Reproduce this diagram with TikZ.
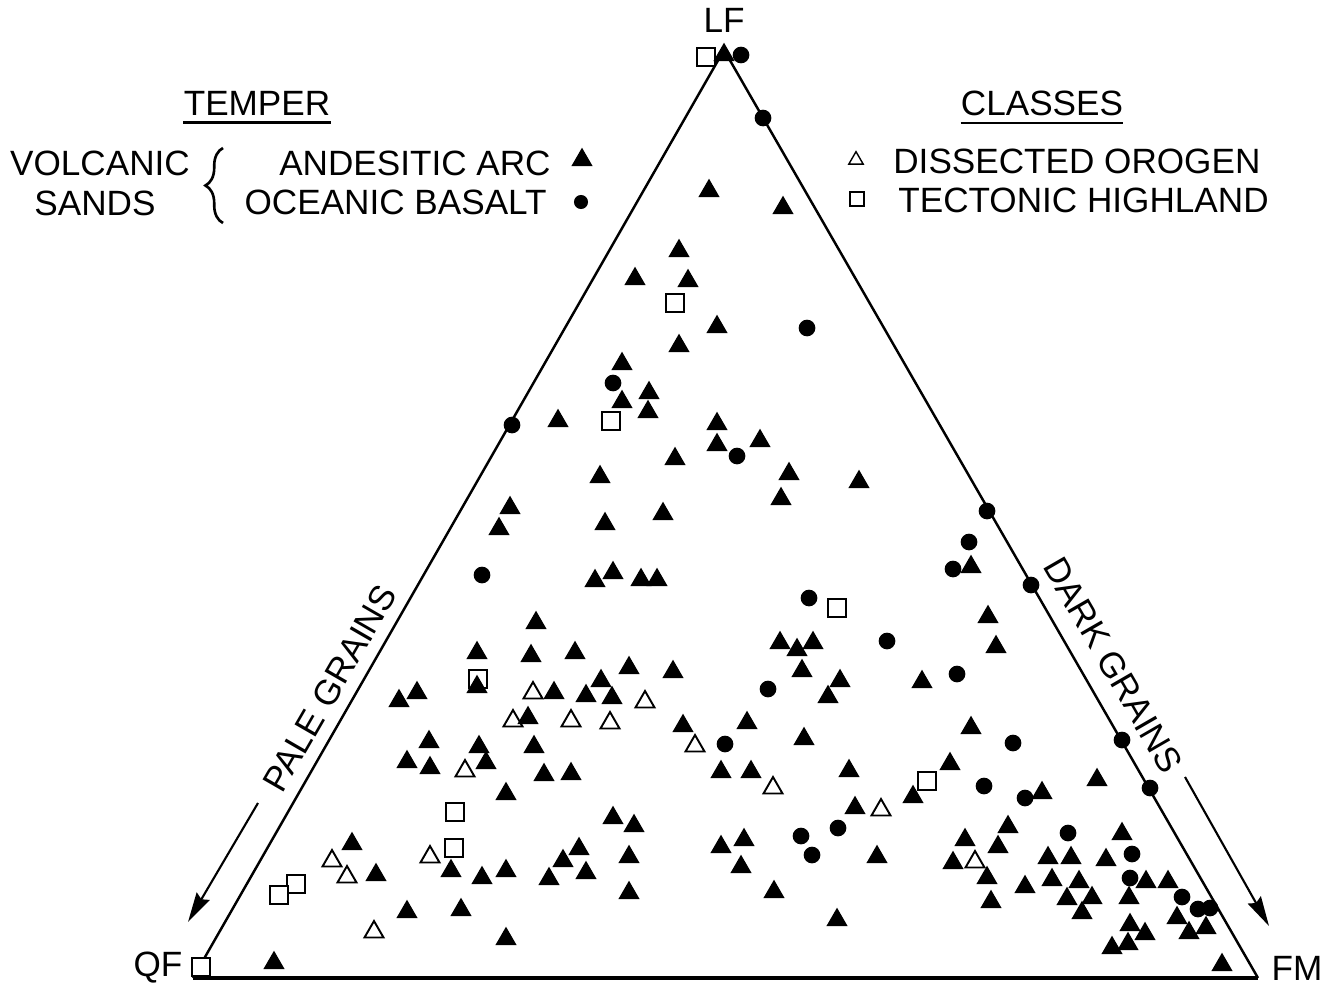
\documentclass[tikz,border=0pt]{standalone}
\usepackage{fontspec}
\setmainfont{Liberation Sans}
\usetikzlibrary{shapes.geometric,arrows.meta,decorations.pathreplacing}
\tikzset{
    lab/.style={inner sep=0pt},
    andesite/.style={regular polygon, regular polygon sides=3, fill=black, inner sep=0pt, minimum size=14pt},
    basalt/.style={circle, fill=black, inner sep=0pt, minimum size=9.5pt},
    orogen/.style={regular polygon, regular polygon sides=3, draw=black, fill=white, line width=1.1pt, inner sep=0pt, minimum size=12.5pt},
    highland/.style={rectangle, draw=black, fill=white, line width=1pt, inner sep=0pt, minimum size=10pt},
    uline/.style={line width=1.2pt},
    grainarrow/.style={line width=1.2pt, -{Stealth[length=17pt,width=8.5pt,inset=2pt]}}
}
\begin{document}
\begin{tikzpicture}[x=0.02cm, y=-0.02cm, font=\fontsize{20}{24}\selectfont]
    \useasboundingbox (0,0) rectangle (1325,984);
    % triangle
    \coordinate (QF) at (193,978);
    \coordinate (FM) at (1258,978);
    \coordinate (LF) at (724,50);
    \draw[line width=1.4pt, line join=miter] (FM)--(LF)--(QF);
    \draw[line width=1.8pt] (QF)--(FM);
    \node[lab] (lQF) at (158,968) {QF};
    \node[lab] (lFM) at (1297,968) {FM};
    \node[lab] (lLF) at (724,20) {LF};
    % edge labels
    \node[lab, rotate=60] (pale) at (330,688) {PALE GRAINS};
    \coordinate (pg1) at (258,803);
    \coordinate (pg2) at (188,922);
    \draw[grainarrow] (pg1)--(pg2);
    \node[lab, rotate=-60] (dark) at (1113,665) {DARK GRAINS};
    \coordinate (dg1) at (1185,777);
    \coordinate (dg2) at (1269,926);
    \draw[grainarrow] (dg1)--(dg2);
    % legend
    \node[lab] (temper) at (257,103) {TEMPER};
    \draw[uline] ([yshift=-4pt]temper.south west)--([yshift=-4pt]temper.south east);
    \node[lab] (volc) at (100,163) {VOLCANIC};
    \node[lab] (sands) at (95,203) {SANDS};
    \draw[decorate, decoration={brace, amplitude=10pt}, line width=1.5pt] (223,223)--(223,148);
    \node[lab, anchor=east] (andes) at (551,163) {ANDESITIC ARC};
    \node[lab, anchor=east] (ocean) at (547,202) {OCEANIC BASALT};
    \node[andesite] (kA) at (582,160) {};
    \node[basalt, minimum size=8pt] (kB) at (581,202) {};
    \node[lab] (classes) at (1042,103) {CLASSES};
    \draw[uline] ([yshift=-4pt]classes.south west)--([yshift=-4pt]classes.south east);
    \node[orogen, minimum size=9.5pt, line width=0.8pt] (kD) at (856,160) {};
    \node[highland, minimum size=8pt, line width=0.8pt] (kS) at (857,199) {};
    \node[lab, anchor=west] (disorog) at (893,161) {DISSECTED OROGEN};
    \node[lab, anchor=west] (tecthl) at (898,200) {TECTONIC HIGHLAND};
    % tectonic highland
    \node[highland] (S1) at (706,57) {};
    \node[highland] (S2) at (675,303) {};
    \node[highland] (S3) at (611,421) {};
    \node[highland] (S4) at (837,608) {};
    \node[highland] (S5) at (478,679) {};
    \node[highland] (S6) at (927,781) {};
    \node[highland] (S7) at (455,812) {};
    \node[highland] (S8) at (454,848) {};
    \node[highland] (S9) at (296,884) {};
    \node[highland] (S10) at (279,895) {};
    \node[highland] (S11) at (201,967) {};
    % dissected orogen
    \node[orogen] (D1) at (513,721) {};
    \node[orogen] (D2) at (533,693) {};
    \node[orogen] (D3) at (571,721) {};
    \node[orogen] (D4) at (610,723) {};
    \node[orogen] (D5) at (645,702) {};
    \node[orogen] (D6) at (695,746) {};
    \node[orogen] (D7) at (773,788) {};
    \node[orogen] (D8) at (881,810) {};
    \node[orogen] (D9) at (975,862) {};
    \node[orogen] (D10) at (465,771) {};
    \node[orogen] (D11) at (430,857) {};
    \node[orogen] (D12) at (332,861) {};
    \node[orogen] (D13) at (347,877) {};
    \node[orogen] (D14) at (374,932) {};
    % oceanic basalt
    \node[basalt] (C1) at (741,55) {};
    \node[basalt] (C2) at (763,118) {};
    \node[basalt] (C3) at (807,328) {};
    \node[basalt] (C4) at (613,383) {};
    \node[basalt] (C5) at (512,425) {};
    \node[basalt] (C6) at (737,456) {};
    \node[basalt] (C7) at (987,511) {};
    \node[basalt] (C8) at (969,542) {};
    \node[basalt] (C9) at (953,569) {};
    \node[basalt] (C10) at (1031,585) {};
    \node[basalt] (C11) at (482,575) {};
    \node[basalt] (C12) at (809,598) {};
    \node[basalt] (C13) at (887,641) {};
    \node[basalt] (C14) at (957,674) {};
    \node[basalt] (C15) at (768,689) {};
    \node[basalt] (C16) at (725,744) {};
    \node[basalt] (C17) at (1013,743) {};
    \node[basalt] (C18) at (1122,740) {};
    \node[basalt] (C19) at (984,786) {};
    \node[basalt] (C20) at (1025,798) {};
    \node[basalt] (C21) at (1150,788) {};
    \node[basalt] (C22) at (838,828) {};
    \node[basalt] (C23) at (801,836) {};
    \node[basalt] (C24) at (812,855) {};
    \node[basalt] (C25) at (1068,833) {};
    \node[basalt] (C26) at (1132,854) {};
    \node[basalt] (C27) at (1130,878) {};
    \node[basalt] (C28) at (1182,897) {};
    \node[basalt] (C29) at (1198,909) {};
    \node[basalt] (C30) at (1210,908) {};
    % andesitic arc
    \node[andesite] (T1) at (724,55) {};
    \node[andesite] (T2) at (709,191) {};
    \node[andesite] (T3) at (783,208) {};
    \node[andesite] (T4) at (679,251) {};
    \node[andesite] (T5) at (635,279) {};
    \node[andesite] (T6) at (688,281) {};
    \node[andesite] (T7) at (717,327) {};
    \node[andesite] (T8) at (679,346) {};
    \node[andesite] (T9) at (622,364) {};
    \node[andesite] (T10) at (649,393) {};
    \node[andesite] (T11) at (622,402) {};
    \node[andesite] (T12) at (648,412) {};
    \node[andesite] (T13) at (558,421) {};
    \node[andesite] (T14) at (717,424) {};
    \node[andesite] (T15) at (717,445) {};
    \node[andesite] (T16) at (760,441) {};
    \node[andesite] (T17) at (675,459) {};
    \node[andesite] (T18) at (789,474) {};
    \node[andesite] (T19) at (859,482) {};
    \node[andesite] (T20) at (781,499) {};
    \node[andesite] (T21) at (600,477) {};
    \node[andesite] (T22) at (510,508) {};
    \node[andesite] (T23) at (499,529) {};
    \node[andesite] (T24) at (605,524) {};
    \node[andesite] (T25) at (663,514) {};
    \node[andesite] (T26) at (595,581) {};
    \node[andesite] (T27) at (613,573) {};
    \node[andesite] (T28) at (641,580) {};
    \node[andesite] (T29) at (657,580) {};
    \node[andesite] (T30) at (971,567) {};
    \node[andesite] (T31) at (988,617) {};
    \node[andesite] (T32) at (996,647) {};
    \node[andesite] (T33) at (780,643) {};
    \node[andesite] (T34) at (797,650) {};
    \node[andesite] (T35) at (813,643) {};
    \node[andesite] (T36) at (536,623) {};
    \node[andesite] (T37) at (477,653) {};
    \node[andesite] (T38) at (531,656) {};
    \node[andesite] (T39) at (575,653) {};
    \node[andesite] (T40) at (629,668) {};
    \node[andesite] (T41) at (673,672) {};
    \node[andesite] (T42) at (802,671) {};
    \node[andesite] (T43) at (840,681) {};
    \node[andesite] (T44) at (828,697) {};
    \node[andesite] (T45) at (922,682) {};
    \node[andesite] (T46) at (477,687) {};
    \node[andesite] (T47) at (601,681) {};
    \node[andesite] (T48) at (399,701) {};
    \node[andesite] (T49) at (417,693) {};
    \node[andesite] (T50) at (554,693) {};
    \node[andesite] (T51) at (586,696) {};
    \node[andesite] (T52) at (612,698) {};
    \node[andesite] (T53) at (528,718) {};
    \node[andesite] (T54) at (683,726) {};
    \node[andesite] (T55) at (747,723) {};
    \node[andesite] (T56) at (804,739) {};
    \node[andesite] (T57) at (971,728) {};
    \node[andesite] (T58) at (429,742) {};
    \node[andesite] (T59) at (479,747) {};
    \node[andesite] (T60) at (534,747) {};
    \node[andesite] (T61) at (407,762) {};
    \node[andesite] (T62) at (430,768) {};
    \node[andesite] (T63) at (486,763) {};
    \node[andesite] (T64) at (544,775) {};
    \node[andesite] (T65) at (571,774) {};
    \node[andesite] (T66) at (721,772) {};
    \node[andesite] (T67) at (751,772) {};
    \node[andesite] (T68) at (849,771) {};
    \node[andesite] (T69) at (950,764) {};
    \node[andesite] (T70) at (506,794) {};
    \node[andesite] (T71) at (855,808) {};
    \node[andesite] (T72) at (913,797) {};
    \node[andesite] (T73) at (1042,793) {};
    \node[andesite] (T74) at (1097,780) {};
    \node[andesite] (T75) at (613,818) {};
    \node[andesite] (T76) at (634,826) {};
    \node[andesite] (T77) at (721,847) {};
    \node[andesite] (T78) at (744,840) {};
    \node[andesite] (T79) at (741,867) {};
    \node[andesite] (T80) at (579,849) {};
    \node[andesite] (T81) at (563,861) {};
    \node[andesite] (T82) at (586,873) {};
    \node[andesite] (T83) at (549,879) {};
    \node[andesite] (T84) at (629,857) {};
    \node[andesite] (T85) at (629,893) {};
    \node[andesite] (T86) at (506,871) {};
    \node[andesite] (T87) at (451,871) {};
    \node[andesite] (T88) at (482,878) {};
    \node[andesite] (T89) at (352,844) {};
    \node[andesite] (T90) at (376,875) {};
    \node[andesite] (T91) at (774,892) {};
    \node[andesite] (T92) at (877,857) {};
    \node[andesite] (T93) at (837,920) {};
    \node[andesite] (T94) at (506,939) {};
    \node[andesite] (T95) at (407,912) {};
    \node[andesite] (T96) at (461,910) {};
    \node[andesite] (T97) at (274,963) {};
    \node[andesite] (T98) at (1008,827) {};
    \node[andesite] (T99) at (965,840) {};
    \node[andesite] (T100) at (998,847) {};
    \node[andesite] (T101) at (953,863) {};
    \node[andesite] (T102) at (987,878) {};
    \node[andesite] (T103) at (991,902) {};
    \node[andesite] (T104) at (1025,887) {};
    \node[andesite] (T105) at (1122,834) {};
    \node[andesite] (T106) at (1048,858) {};
    \node[andesite] (T107) at (1071,858) {};
    \node[andesite] (T108) at (1106,860) {};
    \node[andesite] (T109) at (1052,880) {};
    \node[andesite] (T110) at (1079,882) {};
    \node[andesite] (T111) at (1146,882) {};
    \node[andesite] (T112) at (1168,882) {};
    \node[andesite] (T113) at (1067,899) {};
    \node[andesite] (T114) at (1092,898) {};
    \node[andesite] (T115) at (1129,898) {};
    \node[andesite] (T116) at (1082,913) {};
    \node[andesite] (T117) at (1177,918) {};
    \node[andesite] (T118) at (1130,925) {};
    \node[andesite] (T119) at (1189,933) {};
    \node[andesite] (T120) at (1206,928) {};
    \node[andesite] (T121) at (1145,934) {};
    \node[andesite] (T122) at (1112,948) {};
    \node[andesite] (T123) at (1128,944) {};
    \node[andesite] (T124) at (1222,965) {};
\end{tikzpicture}
\end{document}
